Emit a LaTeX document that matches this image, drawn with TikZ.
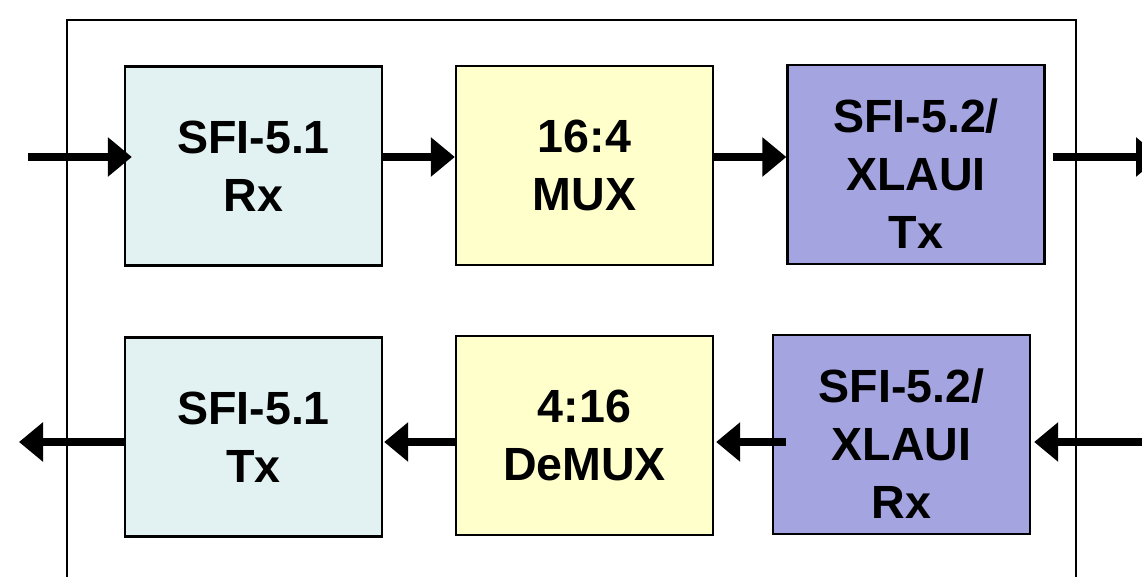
\documentclass[tikz,border=0pt]{standalone}
\usepackage{fontspec}
\setmainfont{Liberation Sans}
\usepackage{tikz}
\usetikzlibrary{arrows.meta}
\definecolor{rxcyan}{HTML}{E2F2F2}
\definecolor{muxyellow}{HTML}{FFFFCC}
\definecolor{xlpurple}{HTML}{A4A4E0}
\tikzset{
	block/.style={draw=black, line width=1.3pt, minimum width=5.14cm, minimum height=3.98cm, align=center, inner sep=0pt, font=\bfseries\fontsize{26.5}{33}\selectfont},
	flow/.style={line width=4pt, -{Triangle[length=4.8mm,width=7.6mm]}}
}

\begin{document}
\begin{tikzpicture}
		%%%%% START %%%%%
		
		\clip (0, 0) rectangle (22.84, 11.52);
		
		\draw[line width=1.1pt] (1.34, -1) -- (1.34, 11.12) -- (21.52, 11.12) -- (21.52, -1);
		
		\node[block, fill=rxcyan] (sfirx) at (5.07, 8.2) {SFI-5.1\\Rx};
		\node[block, fill=muxyellow] (mux) at (11.69, 8.21) {16:4\\MUX};
		\node[block, fill=xlpurple, text height=3.36cm] (xltx) at (18.32, 8.23) {SFI-5.2/\\XLAUI\\Tx};
		
		\node[block, fill=rxcyan] (sfitx) at (5.07, 2.78) {SFI-5.1\\Tx};
		\node[block, fill=muxyellow] (demux) at (11.69, 2.81) {4:16\\DeMUX};
		\node[block, fill=xlpurple, text height=3.36cm] (xlrx) at (18.03, 2.83) {SFI-5.2/\\XLAUI\\Rx};
		
		\coordinate (inA) at (0.56, 8.38);
		\coordinate (outA) at (23.2, 8.38);
		\coordinate (outB) at (0.38, 2.68);
		\coordinate (inB) at (22.84, 2.68);
		
		\draw[flow, shorten >=-0.16cm] (inA) -- (sfirx.west |- inA);
		\draw[flow] (sfirx.east |- inA) -- (mux.west |- inA);
		\draw[flow] (mux.east |- inA) -- (xltx.west |- inA);
		\draw[flow] ([xshift=0.14cm]xltx.east |- inA) -- (outA);
		
		\draw[flow] (inB) -- ([xshift=0.06cm]xlrx.east |- inB);
		\draw[flow] ([xshift=0.28cm]xlrx.west |- inB) -- ([xshift=0.04cm]demux.east |- inB);
		\draw[flow] (demux.west |- inB) -- ([xshift=0.02cm]sfitx.east |- inB);
		\draw[flow] (sfitx.west |- inB) -- (outB);
		
		%%%%% END %%%%%
	\end{tikzpicture}
\end{document}
